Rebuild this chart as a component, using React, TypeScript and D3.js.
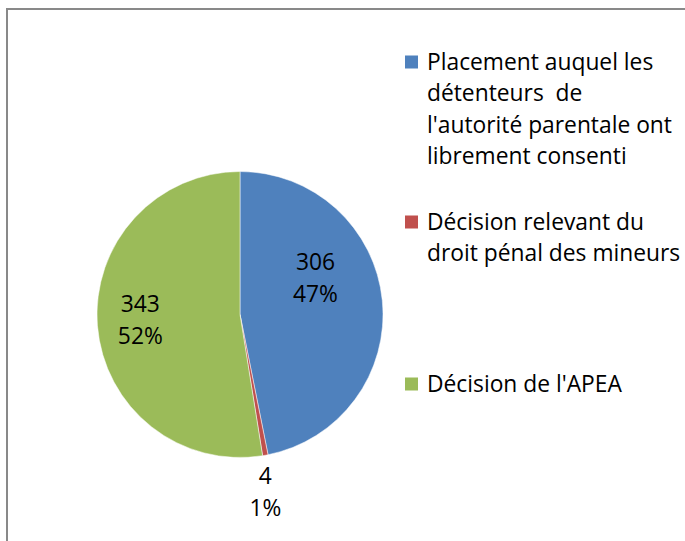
import React, { useRef, useEffect } from 'react';
import * as d3 from 'd3';

// Slice data
const categories = [
  "Placement auquel les détenteurs  de l'autorité parentale ont librement consenti",
  'Décision relevant du droit pénal des mineurs',
  "Décision de l'APEA",
];
const values = [306, 4, 343];
const percentLabels = ['47%', '1%', '52%'];

// Legend text is wrapped the way the original chart wraps it
const legendLines = [
  ['Placement auquel les', 'détenteurs  de', "l'autorité parentale ont", 'librement consenti'],
  ['Décision relevant du', 'droit pénal des mineurs'],
  ["Décision de l'APEA"],
];

const colors = ['#4F81BD', '#C0504D', '#9BBB59'];

const WIDTH = 685;
const HEIGHT = 541;
const FONT = '"Open Sans", Lato, sans-serif';
const FONT_SIZE = '22.8px';

const App = () => {
  const svgRef = useRef<SVGSVGElement | null>(null);

  useEffect(() => {
    if (!svgRef.current) return;
    const svg = d3.select(svgRef.current);
    svg.selectAll('*').remove();

    // Chart area frame
    svg.append('rect')
      .attr('x', 7)
      .attr('y', 9)
      .attr('width', WIDTH + 20)
      .attr('height', HEIGHT + 20)
      .attr('fill', '#ffffff')
      .attr('stroke', '#898989')
      .attr('stroke-width', 2);

    const cx = 240;
    const cy = 314.5;
    const radius = 143;

    const pie = d3.pie<number>().sort(null).value((d) => d);
    const arcs = pie(values);

    const arc = d3.arc<d3.PieArcDatum<number>>().innerRadius(0).outerRadius(radius);

    const g = svg.append('g').attr('transform', `translate(${cx},${cy})`);

    g.selectAll('path.slice')
      .data(arcs)
      .enter()
      .append('path')
      .attr('class', 'slice')
      .attr('d', arc)
      .attr('fill', (d, i) => colors[i])
      .attr('stroke', '#ffffff')
      .attr('stroke-width', 0.5);

    // Data labels: inside for big slices, outside for the tiny one
    const labelRadius = [100, 177, 100];
    const labelNudge = [[-24, -27], [-6, 3], [0, -2]];

    arcs.forEach((a, i) => {
      const mid = (a.startAngle + a.endAngle) / 2;
      const x = Math.sin(mid) * labelRadius[i] + labelNudge[i][0];
      const y = -Math.cos(mid) * labelRadius[i] + labelNudge[i][1];
      const t = g.append('text')
        .attr('text-anchor', 'middle')
        .attr('fill', '#000000')
        .style('font-family', FONT)
        .style('font-size', FONT_SIZE);
      t.append('tspan').attr('x', x).attr('y', y - 16).attr('dy', '0.35em').text(String(values[i]));
      t.append('tspan').attr('x', x).attr('y', y + 16).attr('dy', '0.35em').text(percentLabels[i]);
    });

    // Legend
    const legendX = 405;
    const legendTops = [62, 222, 384];
    const lineH = 31.5;

    legendLines.forEach((lines, i) => {
      const lg = svg.append('g').attr('transform', `translate(${legendX},${legendTops[i]})`);
      lg.append('title').text(categories[i]);
      lg.append('rect')
        .attr('x', 0)
        .attr('y', -6.5)
        .attr('width', 13)
        .attr('height', 13)
        .attr('fill', colors[i]);
      const t = lg.append('text')
        .attr('fill', '#000000')
        .style('font-family', FONT)
        .style('font-size', FONT_SIZE);
      lines.forEach((line, j) => {
        t.append('tspan')
          .attr('x', 22)
          .attr('y', j * lineH)
          .attr('dy', '0.35em')
          .style('white-space', 'pre')
          .text(line);
      });
    });

    return () => {
      svg.selectAll('*').remove();
    };
  }, []);

  return (
    <svg
      ref={svgRef}
      width={WIDTH}
      height={HEIGHT}
      viewBox={`0 0 ${WIDTH} ${HEIGHT}`}
      style={{ position: 'absolute', left: 0, top: 0, display: 'block', background: '#ffffff' }}
    />
  );
};

export default App;
